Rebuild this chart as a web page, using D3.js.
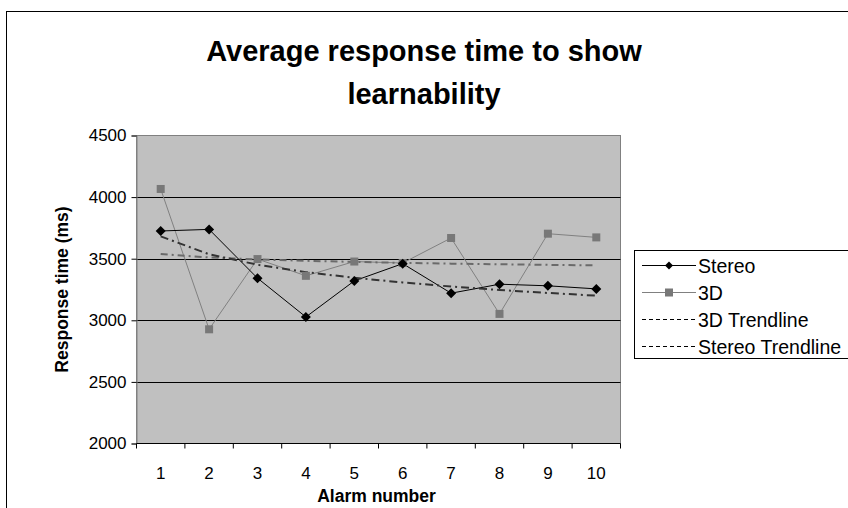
<!DOCTYPE html>
<html>
<head>
<meta charset="utf-8">
<script src="https://cdn.jsdelivr.net/npm/d3@7"></script>
<style>
  body { margin: 0; background: #fff; }
  svg { display: block; font-family: "Liberation Sans", Arial, sans-serif; }
</style>
</head>
<body>
<div id="chart"></div>
<script>
// data
let alarms = [1, 2, 3, 4, 5, 6, 7, 8, 9, 10];
let stereo = [3725, 3738, 3342, 3027, 3320, 3460, 3220, 3293, 3280, 3255];
let threeD = [4066, 2927, 3497, 3361, 3477, 3465, 3668, 3052, 3703, 3673];
// trendlines (logarithmic in the original), read at each alarm
let stereoTrend = [3681, 3536, 3451, 3391, 3345, 3307, 3274, 3246, 3222, 3200];
let threeDTrend = [3538, 3510, 3494, 3483, 3474, 3466, 3460, 3455, 3450, 3446];
let yTicks = [2000, 2500, 3000, 3500, 4000, 4500];

let width = 848, height = 508;
let plot = {left: 136.5, right: 620.5, top: 135.5, bottom: 443.5};

let svg = d3.select("#chart")
    .append("svg")
    .attr("width", width)
    .attr("height", height);

// outer chart frame (runs off the page right and bottom)
svg.append("rect")
    .attr("x", 6.5).attr("y", 11.5)
    .attr("width", 900).attr("height", 600)
    .attr("fill", "#fff")
    .attr("stroke", "#000");

// title
let title = svg.append("text")
    .attr("text-anchor", "middle")
    .attr("font-weight", "bold")
    .attr("font-size", 29)
    .attr("fill", "#000");
title.append("tspan").attr("x", 424).attr("y", 61).text("Average response time to show");
title.append("tspan").attr("x", 424).attr("y", 104).text("learnability");

let x = d3.scaleBand()
    .domain(alarms)
    .range([plot.left, plot.right]);

let y = d3.scaleLinear()
    .domain([2000, 4500])
    .range([plot.bottom, plot.top]);

// plot background
svg.append("rect")
    .attr("x", plot.left).attr("y", plot.top)
    .attr("width", plot.right - plot.left)
    .attr("height", plot.bottom - plot.top)
    .attr("fill", "#c0c0c0")
    .attr("stroke", "#808080");

// gridlines
svg.append("g")
    .selectAll("line")
    .data(yTicks.filter(d => d > 2000 && d < 4500))
    .enter()
    .append("line")
    .attr("x1", plot.left).attr("x2", plot.right)
    .attr("y1", d => Math.round(y(d)) + 0.5)
    .attr("y2", d => Math.round(y(d)) + 0.5)
    .attr("stroke", "#000");

// Y axis
let yAxis = svg.append("g")
    .attr("transform", "translate(" + plot.left + ",0)")
    .call(d3.axisLeft(y).tickValues(yTicks).tickFormat(d3.format("d")).tickSize(5).tickPadding(5))
    .attr("font-family", null)
    .attr("font-size", 17);
yAxis.select(".domain").attr("stroke", "#808080");
yAxis.selectAll("text").attr("fill", "#000");

// X axis, ticks between categories
let xAxis = svg.append("g")
    .attr("transform", "translate(0," + plot.bottom + ")");
xAxis.append("line")
    .attr("x1", plot.left).attr("x2", plot.right)
    .attr("stroke", "#000");
xAxis.selectAll(".tk")
    .data(alarms.concat([11]))
    .enter()
    .append("line")
    .attr("class", "tk")
    .attr("x1", d => d <= 10 ? x(d) : plot.right)
    .attr("x2", d => d <= 10 ? x(d) : plot.right)
    .attr("y1", 0).attr("y2", 5)
    .attr("stroke", "#000");
xAxis.selectAll(".lbl")
    .data(alarms)
    .enter()
    .append("text")
    .attr("class", "lbl")
    .attr("x", d => x(d) + x.bandwidth() / 2)
    .attr("y", 35)
    .attr("text-anchor", "middle")
    .attr("font-size", 17)
    .text(d => d);

// axis titles
svg.append("text")
    .attr("x", (plot.left + plot.right) / 2 - 2)
    .attr("y", 502)
    .attr("text-anchor", "middle")
    .attr("font-weight", "bold")
    .attr("font-size", 17.5)
    .text("Alarm number");

svg.append("text")
    .attr("transform", "translate(68," + (plot.top + plot.bottom) / 2 + ") rotate(-90)")
    .attr("text-anchor", "middle")
    .attr("font-weight", "bold")
    .attr("font-size", 17.5)
    .text("Response time (ms)");

let cx = d => x(d) + x.bandwidth() / 2;
let line = d3.line()
    .x((d, i) => cx(alarms[i]))
    .y(d => y(d));

// rotated-square marker like the spreadsheet's diamond
let diamond = "M0,-5L5,0L0,5L-5,0Z";

// data lines
svg.append("path")
    .datum(threeD)
    .attr("d", line)
    .attr("fill", "none")
    .attr("stroke", "#808080")
    .attr("stroke-width", 1);

svg.append("path")
    .datum(stereo)
    .attr("d", line)
    .attr("fill", "none")
    .attr("stroke", "#000")
    .attr("stroke-width", 1);

// trendlines
svg.append("path")
    .datum(threeDTrend)
    .attr("d", line)
    .attr("fill", "none")
    .attr("stroke", "#6a6a6a")
    .attr("stroke-width", 2)
    .attr("stroke-dasharray", "7,4,2,4");

svg.append("path")
    .datum(stereoTrend)
    .attr("d", line)
    .attr("fill", "none")
    .attr("stroke", "#333")
    .attr("stroke-width", 2)
    .attr("stroke-dasharray", "8,4,2,4");

// markers
svg.append("g")
    .selectAll("rect")
    .data(threeD)
    .enter()
    .append("rect")
    .attr("x", (d, i) => cx(alarms[i]) - 4)
    .attr("y", d => y(d) - 4)
    .attr("width", 8).attr("height", 8)
    .attr("fill", "#787878");

svg.append("g")
    .selectAll("path")
    .data(stereo)
    .enter()
    .append("path")
    .attr("d", diamond)
    .attr("transform", (d, i) => "translate(" + cx(alarms[i]) + "," + y(d) + ")")
    .attr("fill", "#000");

// legend
let legend = svg.append("g").attr("transform", "translate(634,250)");
legend.append("rect")
    .attr("x", 0.5).attr("y", 0.5)
    .attr("width", 300).attr("height", 108)
    .attr("fill", "#fff")
    .attr("stroke", "#000");

let items = [
    {name: "Stereo", color: "#000", dash: null, marker: "diamond"},
    {name: "3D", color: "#808080", dash: null, marker: "square"},
    {name: "3D Trendline", color: "#000", dash: "4,3", marker: null},
    {name: "Stereo Trendline", color: "#000", dash: "4,3", marker: null}
];

let row = legend.selectAll(".item")
    .data(items)
    .enter()
    .append("g")
    .attr("class", "item")
    .attr("transform", (d, i) => "translate(0," + (15.5 + i * 27) + ")");

row.append("line")
    .attr("x1", 8).attr("x2", 62)
    .attr("stroke", d => d.color)
    .attr("stroke-dasharray", d => d.dash);

row.filter(d => d.marker == "diamond")
    .append("path")
    .attr("d", "M0,-4L4,0L0,4L-4,0Z")
    .attr("transform", "translate(35,0)")
    .attr("fill", "#000");

row.filter(d => d.marker == "square")
    .append("rect")
    .attr("x", 31).attr("y", -4)
    .attr("width", 8).attr("height", 8)
    .attr("fill", "#787878");

row.append("text")
    .attr("x", 64)
    .attr("y", 7)
    .attr("font-size", 19.5)
    .text(d => d.name);
</script>
</body>
</html>
